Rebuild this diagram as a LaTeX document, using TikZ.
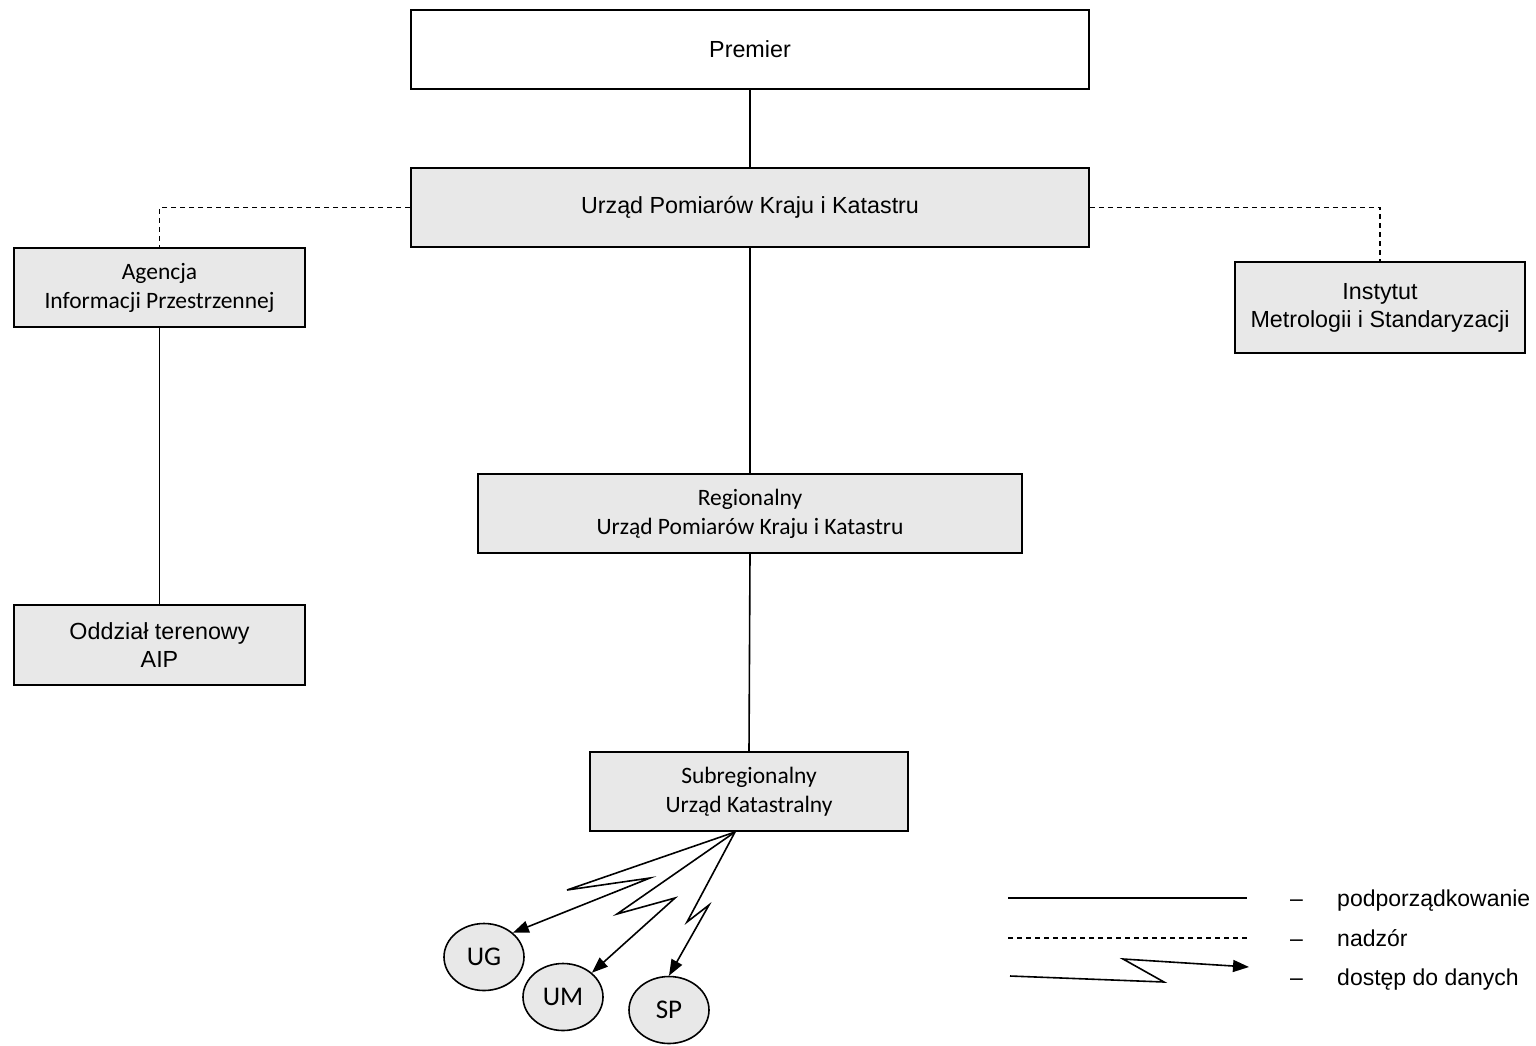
\documentclass[tikz,border=0pt]{standalone}
\usepackage{fontspec}
\setmainfont{Liberation Sans}
\newfontfamily\calfont{Carlito}
\usetikzlibrary{arrows.meta,shapes.geometric}
\definecolor{boxgray}{HTML}{E8E8E8}
\tikzset{
  x=1pt,y=-1pt,
  orgbox/.style={draw=black,line width=1.6pt,fill=boxgray,inner sep=0pt,align=center,font=\fontsize{23.3}{28}\selectfont},
  calbox/.style={orgbox,font=\calfont\fontsize{23.5}{29}\selectfont},
  oval/.style={draw=black,line width=1.6pt,fill=boxgray,ellipse,inner sep=0pt,minimum width=80pt,minimum height=67pt,font=\calfont\fontsize{27}{30}\selectfont},
  sub/.style={line width=1.6pt},
  sup/.style={line width=1.6pt,dash pattern=on 5pt off 4pt},
  acc/.style={line width=1.6pt,-{Triangle[length=16pt,width=12pt]}},
  legtext/.style={anchor=base west,inner sep=0pt,font=\fontsize{23}{28}\selectfont}
}
\begin{document}
\begin{tikzpicture}
\useasboundingbox (0,0) rectangle (1536,1045);
\node[orgbox,fill=white,minimum width=678pt,minimum height=79pt] (pm) at (750,49.5) {Premier};
\node[orgbox,minimum width=678pt,minimum height=79pt] (up) at (750,207.5) {Urząd Pomiarów Kraju i Katastru};
\node[calbox,minimum width=291pt,minimum height=79pt] (aip) at (159.5,287.5) {Agencja\\Informacji Przestrzennej};
\node[orgbox,minimum width=291pt,minimum height=80pt] (od) at (159.5,645) {Oddział terenowy\\AIP};
\node[orgbox,minimum width=290pt,minimum height=91pt] (im) at (1380,307.5) {Instytut\\Metrologii i Standaryzacji};
\node[calbox,minimum width=544pt,minimum height=79pt] (reg) at (750,513.5) {Regionalny\\Urząd Pomiarów Kraju i Katastru};
\node[calbox,minimum width=318pt,minimum height=79pt] (sub) at (749,791.5) {Subregionalny\\Urząd Katastralny};
\node[oval] (ug) at (484,957) {UG};
\node[oval] (um) at (563,997) {UM};
\node[oval] (sp) at (669,1010) {SP};

\draw[sub] (pm.south) -- (up.north);
\draw[sub] (up.south) -- (reg.north);
\draw[sub] (reg.south) -- (sub.north);
\draw[sub] (aip.south) -- (od.north);
\draw[sup] (up.west) -| (aip.north);
\draw[sup] (up.east) -| (im.north);

\coordinate (src) at (735,832);
\draw[acc] (src) -- (567,890) -- (650,878) -- (ug.north east);
\draw[acc] (src) -- (617,914) -- (675,898) -- (um.north east);
\draw[acc] (src) -- (687,922) -- (709,905) -- (sp.north);

% legend
\coordinate (l1a) at (1008,898); \coordinate (l1b) at (1247,898);
\coordinate (l2a) at (1008,938); \coordinate (l2b) at (1247,938);
\coordinate (l3a) at (1010,976); \coordinate (l3b) at (1249,967);
\draw[sub] (l1a) -- (l1b);
\draw[sup] (l2a) -- (l2b);
\draw[acc] (l3a) -- (1164,982) -- (1123,959) -- (l3b);
\node[legtext] (d1) at (1290,906) {–};
\node[legtext] (d2) at (1290,946) {–};
\node[legtext] (d3) at (1290,985) {–};
\node[legtext] (t1) at (1337,906) {podporządkowanie};
\node[legtext] (t2) at (1337,946) {nadzór};
\node[legtext] (t3) at (1337,985) {dostęp do danych};
\end{tikzpicture}
\end{document}
